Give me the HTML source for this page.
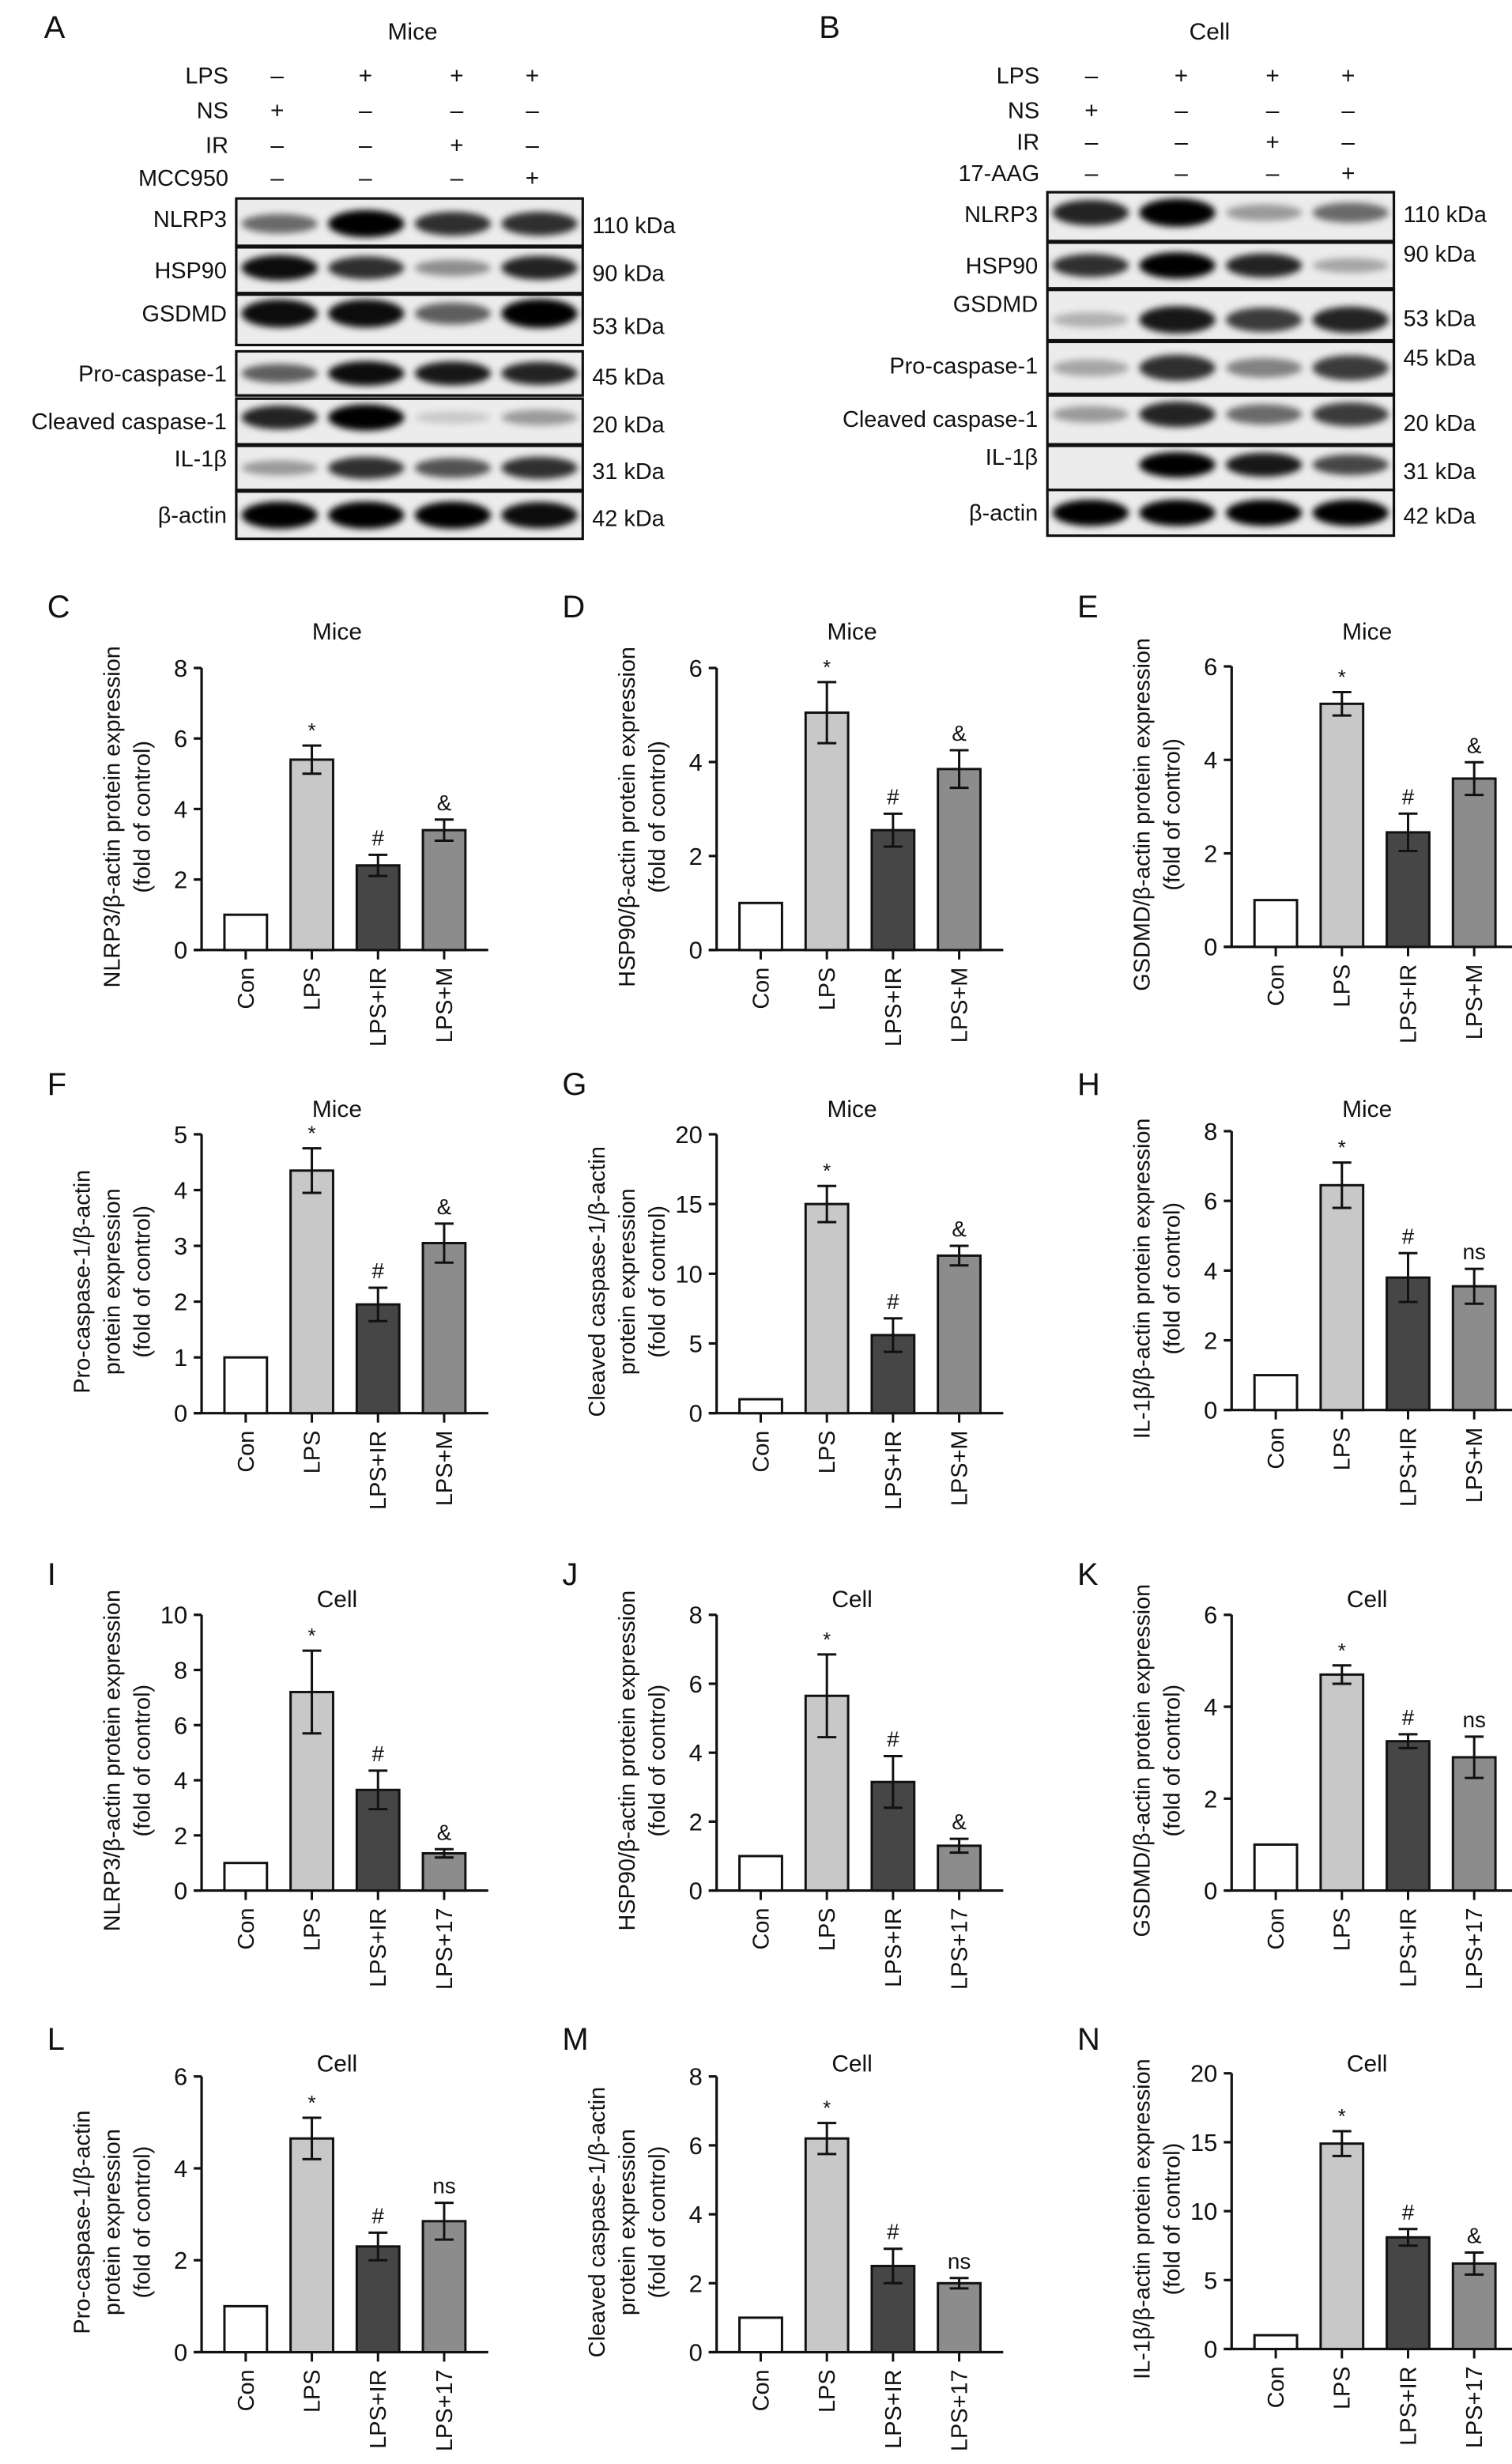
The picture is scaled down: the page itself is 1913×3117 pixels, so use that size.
<!DOCTYPE html>
<html><head><meta charset="utf-8">
<style>
html,body{margin:0;padding:0;background:#fff;}
svg{display:block;}
text{font-family:"Liberation Sans",Arial,sans-serif;fill:#111;}
</style></head>
<body>
<svg id="fig" width="1913" height="3117" viewBox="0 0 960 1564" preserveAspectRatio="none" xmlns="http://www.w3.org/2000/svg">
<defs>
<filter id="blur" x="-30%" y="-80%" width="160%" height="260%"><feGaussianBlur stdDeviation="2.2"/></filter>
</defs>
<g id="blots"></g>
<g id="charts"></g>
</svg>
<script>
// ---- chart data ----
const miceCategories = ["Con","LPS","LPS+IR","LPS+M"];
const cellCategories = ["Con","LPS","LPS+IR","LPS+17"];
const cValues = [1,5.4,2.4,3.4];   const cErrors = [0,0.4,0.3,0.3];
const dValues = [1,5.05,2.55,3.85]; const dErrors = [0,0.65,0.35,0.4];
const eValues = [1,5.2,2.45,3.6];  const eErrors = [0,0.25,0.4,0.35];
const fValues = [1,4.35,1.95,3.05]; const fErrors = [0,0.4,0.3,0.35];
const gValues = [1,15,5.6,11.3];   const gErrors = [0,1.3,1.2,0.7];
const hValues = [1,6.45,3.8,3.55]; const hErrors = [0,0.65,0.7,0.5];
const iValues = [1,7.2,3.65,1.35]; const iErrors = [0,1.5,0.7,0.15];
const jValues = [1,5.65,3.15,1.3]; const jErrors = [0,1.2,0.75,0.2];
const kValues = [1,4.7,3.25,2.9];  const kErrors = [0,0.2,0.15,0.45];
const lValues = [1,4.65,2.3,2.85]; const lErrors = [0,0.45,0.3,0.4];
const mValues = [1,6.2,2.5,2.0];   const mErrors = [0,0.45,0.5,0.15];
const nValues = [1,14.9,8.1,6.2];  const nErrors = [0,0.9,0.6,0.8];
const ticks8 = [0,2,4,6,8];
const ticks6 = [0,2,4,6];
const ticks5 = [0,1,2,3,4,5];
const ticks20 = [0,5,10,15,20];
const ticks10 = [0,2,4,6,8,10];
const annotMice = ["","*","#","&"];
const annotMiceNs = ["","*","#","ns"];
const annotCell = ["","*","#","&"];
const annotCellNs = ["","*","#","ns"];

const NS="http://www.w3.org/2000/svg";
function el(tag,attrs,parent,txt){const e=document.createElementNS(NS,tag);for(const k in attrs)e.setAttribute(k,attrs[k]);if(txt!==undefined)e.textContent=txt;parent.appendChild(e);return e;}
const charts=document.getElementById('charts');
const blots=document.getElementById('blots');
const fills=["#ffffff","#c8c8c8","#464646","#8c8c8c"];

function chart(id,letter,ox,oy,yTop,y0,title,ylines,cats,vals,errs,ticks,annots){
  const g=el('g',{},charts);
  
  
  const axX=ox+128, ymax=ticks[ticks.length-1];
  const ys=v=>y0-(v/ymax)*(y0-yTop);
  const xs=i=>axX+28+i*42;
  const L=el('text',{x:ox+30,y:oy-8,'font-size':20},g,letter);
  
  
  const t=el('text',{x:ox+214,y:oy+6,'font-size':15,'text-anchor':'middle'},g,title);
  
  
  const n=ylines.length, cy=(yTop+y0)/2+5;
  ylines.forEach((ln,k)=>{
    const x=axX-33-(n-1-k)*19;
    const yl=el('text',{x:x,y:cy,'font-size':14.5,'text-anchor':'middle',transform:`rotate(-90 ${x} ${cy})`},g,ln);
    
    
  });
  el('line',{x1:axX,y1:yTop,x2:axX,y2:y0,stroke:'#111','stroke-width':1.6},g);
  el('line',{x1:axX-5,y1:y0,x2:axX+182,y2:y0,stroke:'#111','stroke-width':1.6},g);
  ticks.forEach(v=>{
    el('line',{x1:axX-5,y1:ys(v),x2:axX,y2:ys(v),stroke:'#111','stroke-width':1.6},g);
    const tl=el('text',{x:axX-9,y:ys(v)+5.5,'font-size':15.5,'text-anchor':'end'},g,String(v));
    
    
  });
  cats.forEach((c,i)=>{
    const cx=xs(i);
    const b=el('rect',{x:cx-13.5,y:ys(vals[i]),width:27,height:y0-ys(vals[i]),fill:fills[i],stroke:'#111','stroke-width':1.5},g);
    
    
    if(errs[i]>0){
      const hi=ys(vals[i]+errs[i]), lo=ys(vals[i]-errs[i]);
      el('line',{x1:cx,y1:hi,x2:cx,y2:lo,stroke:'#111','stroke-width':1.5},g);
      el('line',{x1:cx-6,y1:hi,x2:cx+6,y2:hi,stroke:'#111','stroke-width':1.5},g);
      el('line',{x1:cx-6,y1:lo,x2:cx+6,y2:lo,stroke:'#111','stroke-width':1.5},g);
    }
    if(annots[i]){
      const a=el('text',{x:cx,y:ys(vals[i]+errs[i])-(annots[i]==='*'?5:6),'font-size':annots[i]==='*'?13:14,'text-anchor':'middle'},g,annots[i]);
      
      
    }
    el('line',{x1:cx,y1:y0,x2:cx,y2:y0+6,stroke:'#111','stroke-width':1.5},g);
    const lx=cx+5, ly=y0+11;
    const xl=el('text',{x:lx,y:ly,'font-size':14.5,'text-anchor':'end',transform:`rotate(-90 ${lx} ${ly})`},g,c);
    
    
  });
}

chart('c','C',0,400,424,603,'Mice',['NLRP3/β-actin protein expression','(fold of control)'],miceCategories,cValues,cErrors,ticks8,annotMice);
chart('d','D',327,400,424,603,'Mice',['HSP90/β-actin protein expression','(fold of control)'],miceCategories,dValues,dErrors,ticks6,annotMice);
chart('e','E',654,400,423,601,'Mice',['GSDMD/β-actin protein expression','(fold of control)'],miceCategories,eValues,eErrors,ticks6,annotMice);
chart('f','F',0,703,720,897,'Mice',['Pro-caspase-1/β-actin','protein expression','(fold of control)'],miceCategories,fValues,fErrors,ticks5,annotMice);
chart('g','G',327,703,720,897,'Mice',['Cleaved caspase-1/β-actin','protein expression','(fold of control)'],miceCategories,gValues,gErrors,ticks20,annotMice);
chart('h','H',654,703,718,895,'Mice',['IL-1β/β-actin protein expression','(fold of control)'],miceCategories,hValues,hErrors,ticks8,annotMiceNs);
chart('i','I',0,1014,1025,1200,'Cell',['NLRP3/β-actin protein expression','(fold of control)'],cellCategories,iValues,iErrors,ticks10,annotCell);
chart('j','J',327,1014,1025,1200,'Cell',['HSP90/β-actin protein expression','(fold of control)'],cellCategories,jValues,jErrors,ticks8,annotCell);
chart('k','K',654,1014,1025,1200,'Cell',['GSDMD/β-actin protein expression','(fold of control)'],cellCategories,kValues,kErrors,ticks6,annotCellNs);
chart('l','L',0,1309,1318,1493,'Cell',['Pro-caspase-1/β-actin','protein expression','(fold of control)'],cellCategories,lValues,lErrors,ticks6,annotCellNs);
chart('m','M',327,1309,1318,1493,'Cell',['Cleaved caspase-1/β-actin','protein expression','(fold of control)'],cellCategories,mValues,mErrors,ticks8,annotCellNs);
chart('n','N',654,1309,1316,1491,'Cell',['IL-1β/β-actin protein expression','(fold of control)'],cellCategories,nValues,nErrors,ticks20,annotCell);

// ---- western blots ----
function blot(id,letter,lx,title,tx,labRight,cols,treat,fx0,fx1,rows){
  const g=el('g',{},blots);
  
  
  const L=el('text',{x:lx,y:24,'font-size':20},g,letter);
  
  
  const t=el('text',{x:tx,y:25,'font-size':15,'text-anchor':'middle'},g,title);
  
  
  treat.forEach(tr=>{
    const a=el('text',{x:labRight,y:tr.y+5,'font-size':14.5,'text-anchor':'end'},g,tr.name);
    
    
    tr.s.forEach((s,i)=>{
      const m=el('text',{x:cols[i],y:tr.y+5,'font-size':15,'text-anchor':'middle'},g,s?'+':'–');
      
      
    });
  });
  rows.forEach(r=>{
    el('rect',{x:fx0,y:r.y,width:fx1-fx0,height:r.h,fill:r.bg||'#ececec',stroke:'#111','stroke-width':1.6},g);
    const bw=(fx1-fx0)/4;
    r.b.forEach((v,i)=>{
      if(v<=0)return;
      const cx=fx0+bw*(i+0.5);
      el('ellipse',{cx:cx,cy:r.y+(r.by||r.h/2),rx:bw*0.44,ry:Math.max(3,r.h*0.18*(0.6+v)),fill:'#000','fill-opacity':Math.min(1,v),filter:'url(#blur)'},g);
    });
    const nl=el('text',{x:fx0-6,y:r.y+(r.ly||r.h/2+5),'font-size':14.5,'text-anchor':'end'},g,r.name);
    
    
    const kl=el('text',{x:fx1+6,y:r.y+(r.ky||r.h/2+7),'font-size':14.5},g,r.kda);
    
    
  });
}
blot('a','A',28,'Mice',262,145,[176,232,290,338],
 [{name:'LPS',y:48,s:[0,1,1,1]},{name:'NS',y:70,s:[1,0,0,0]},{name:'IR',y:92,s:[0,0,1,0]},{name:'MCC950',y:113,s:[0,0,0,1]}],
 150,370,
 [{name:'NLRP3',y:126,h:30,kda:'110 kDa',b:[0.55,1,0.8,0.8],by:16,ky:22,ly:18},
  {name:'HSP90',y:157,h:29,kda:'90 kDa',b:[0.95,0.8,0.4,0.85],by:13},
  {name:'GSDMD',y:187,h:32,kda:'53 kDa',b:[0.95,0.95,0.6,1],by:12,ly:17,ky:25},
  {name:'Pro-caspase-1',y:223,h:28,kda:'45 kDa',b:[0.6,0.95,0.9,0.85]},
  {name:'Cleaved caspase-1',y:253,h:29,kda:'20 kDa',b:[0.85,1,0.15,0.35],by:12},
  {name:'IL-1β',y:283,h:28,kda:'31 kDa',b:[0.35,0.8,0.65,0.8],ly:13},
  {name:'β-actin',y:312,h:30,kda:'42 kDa',b:[1,1,1,0.95]}]);
blot('b','B',520,'Cell',768,660,[693,750,808,856],
 [{name:'LPS',y:48,s:[0,1,1,1]},{name:'NS',y:70,s:[1,0,0,0]},{name:'IR',y:90,s:[0,0,1,0]},{name:'17-AAG',y:110,s:[0,0,0,1]}],
 665,885,
 [{name:'NLRP3',y:122,h:31,kda:'110 kDa',b:[0.85,1,0.35,0.55],by:13,ky:19,ly:19},
  {name:'HSP90',y:154,h:29,kda:'90 kDa',b:[0.8,1,0.85,0.3],ky:12},
  {name:'GSDMD',y:184,h:32,kda:'53 kDa',b:[0.25,0.9,0.75,0.85],by:19,ly:14},
  {name:'Pro-caspase-1',y:217,h:33,kda:'45 kDa',b:[0.3,0.8,0.45,0.75],ky:15,ly:20},
  {name:'Cleaved caspase-1',y:251,h:31,kda:'20 kDa',b:[0.35,0.85,0.55,0.75],by:12,ly:20},
  {name:'IL-1β',y:283,h:28,kda:'31 kDa',b:[0,1,0.9,0.7],by:12,ly:12},
  {name:'β-actin',y:311,h:29,kda:'42 kDa',b:[1,1,1,1]}]);
</script>
</body></html>
